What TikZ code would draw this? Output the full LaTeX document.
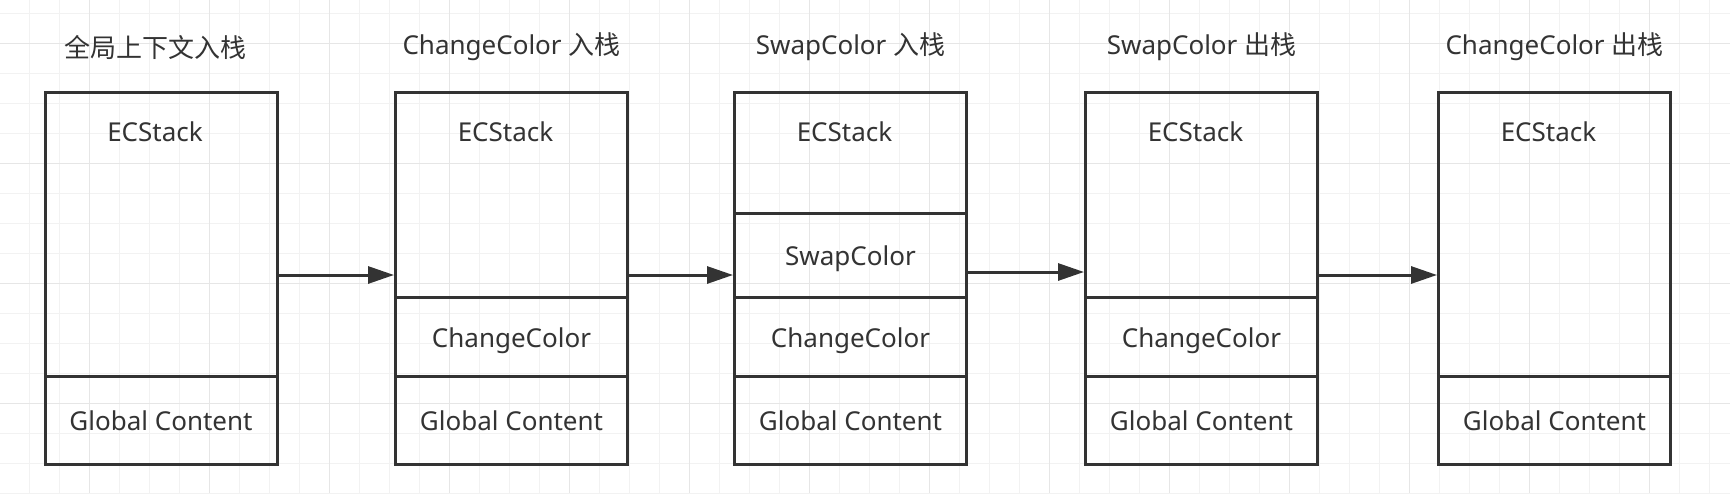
\documentclass[tikz,border=0pt]{standalone}
\usepackage{fontspec}
\setmainfont{Noto Sans}
\newfontfamily\cjk{Noto Sans CJK SC}
\usetikzlibrary{positioning, arrows.meta}
\definecolor{linec}{HTML}{333333}
\definecolor{gridlo}{HTML}{F2F2F2}
\definecolor{gridhi}{HTML}{E6E6E6}

\begin{document}
\begin{tikzpicture}[
    x=1pt, y=-1pt,
    font=\fontsize{26}{30}\selectfont,
    frame/.style={rectangle, draw=linec, line width=3pt, outer sep=0pt, inner sep=0pt, minimum width=232pt, minimum height=372pt},
    cell/.style={rectangle, draw=linec, line width=3pt, outer sep=0pt, inner sep=0pt, minimum width=232pt, text=linec, text height=21pt, text depth=0pt},
    label/.style={text=linec, inner sep=0pt},
    arrow/.style={-{Triangle[length=26pt, width=17pt]}, line width=3pt, draw=linec, shorten >=1.5pt},
    gridminor/.style={draw=gridlo, line width=1pt},
    gridmajor/.style={draw=gridhi, line width=1pt}
]
    % Background and grid
    \useasboundingbox[fill=white] (0,0) rectangle (1730,493);
    \foreach \gx in {-1,29,...,1739} \draw[gridminor] (\gx,0) -- (\gx,493);
    \foreach \gy in {13,43,...,493} \draw[gridminor] (0,\gy) -- (1730,\gy);
    \foreach \gx in {89,209,...,1739} \draw[gridmajor] (\gx,0) -- (\gx,493);
    \foreach \gy in {43,163,...,493} \draw[gridmajor] (0,\gy) -- (1730,\gy);

    % Stack frames
    \node[frame] (f1) at (161,278) {};
    \node[frame] (f2) at (511.5,278) {};
    \node[frame] (f3) at (850.5,278) {};
    \node[frame] (f4) at (1201.5,278) {};
    \node[frame] (f5) at (1554.5,278) {};

    % Titles
    \node[label] (t1) at ([xshift=-6pt, yshift=45pt]f1.north) {\cjk 全局上下文入栈};
    \node[label] (t2) at ([yshift=45pt]f2.north) {ChangeColor {\cjk 入栈}};
    \node[label] (t3) at ([yshift=45pt]f3.north) {SwapColor {\cjk 入栈}};
    \node[label] (t4) at ([yshift=45pt]f4.north) {SwapColor {\cjk 出栈}};
    \node[label] (t5) at ([yshift=45pt]f5.north) {ChangeColor {\cjk 出栈}};

    % ECStack labels
    \node[label] (e1) at ([xshift=-6pt, yshift=-40pt]f1.north) {ECStack};
    \node[label] (e2) at ([xshift=-6pt, yshift=-40pt]f2.north) {ECStack};
    \node[label] (e3) at ([xshift=-6pt, yshift=-40pt]f3.north) {ECStack};
    \node[label] (e4) at ([xshift=-6pt, yshift=-40pt]f4.north) {ECStack};
    \node[label] (e5) at ([xshift=-6pt, yshift=-40pt]f5.north) {ECStack};

    % Global context cells
    \node[cell, minimum height=88pt, above=0pt of f1.south] (g1) {Global Content};
    \node[cell, minimum height=88pt, above=0pt of f2.south] (g2) {Global Content};
    \node[cell, minimum height=88pt, above=0pt of f3.south] (g3) {Global Content};
    \node[cell, minimum height=88pt, above=0pt of f4.south] (g4) {Global Content};
    \node[cell, minimum height=88pt, above=0pt of f5.south] (g5) {Global Content};

    % Function context cells
    \node[cell, minimum height=79pt, above=0pt of g2] (c2) {ChangeColor};
    \node[cell, minimum height=79pt, above=0pt of g3] (c3) {ChangeColor};
    \node[cell, minimum height=84pt, above=0pt of c3] (s3) {SwapColor};
    \node[cell, minimum height=79pt, above=0pt of g4] (c4) {ChangeColor};

    % Arrows
    \draw[arrow] ([yshift=3pt]f1.east) -- ([yshift=3pt]f2.west);
    \draw[arrow] ([yshift=3pt]f2.east) -- ([yshift=3pt]f3.west);
    \draw[arrow] ([yshift=6pt]f3.east) -- ([yshift=6pt]f4.west);
    \draw[arrow] ([yshift=3pt]f4.east) -- ([yshift=3pt]f5.west);
\end{tikzpicture}
\end{document}
